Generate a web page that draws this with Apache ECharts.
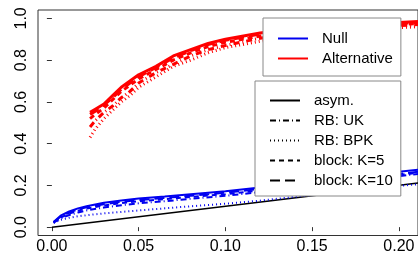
<!DOCTYPE html>
<html>
<head>
<meta charset="utf-8">
<script src="https://cdn.jsdelivr.net/npm/echarts@6/dist/echarts.min.js"></script>
<style>
	html,body{margin:0;padding:0;background:#fff;}
	#chart{width:418px;height:256px;}
</style>
</head>
<body>
<div id="chart"></div>
<script>
	// x grids (nominal size)
	var xNull = [0.001,0.005,0.01,0.015,0.02,0.03,0.04,0.05,0.065,0.08,0.1,0.12,0.14,0.16,0.18,0.2,0.211];
	var xAlt = [0.022,0.025,0.03,0.035,0.04,0.045,0.05,0.06,0.07,0.08,0.09,0.1,0.12,0.14,0.16,0.18,0.2,0.211];

	// rejection rates under the null
	var nullAsym = [0.025,0.055,0.075,0.09,0.10,0.117,0.128,0.137,0.147,0.158,0.172,0.19,0.208,0.226,0.245,0.265,0.275];
	var nullUK = [0.022,0.042,0.058,0.07,0.08,0.094,0.105,0.114,0.124,0.136,0.15,0.168,0.186,0.205,0.224,0.244,0.255];
	var nullBPK = [0.02,0.035,0.045,0.052,0.057,0.066,0.073,0.08,0.09,0.10,0.112,0.127,0.145,0.162,0.18,0.198,0.205];
	var nullK5 = [0.023,0.046,0.065,0.079,0.089,0.104,0.115,0.124,0.134,0.145,0.158,0.176,0.194,0.212,0.23,0.25,0.26];
	var nullK10 = [0.024,0.05,0.07,0.085,0.095,0.11,0.121,0.13,0.14,0.15,0.165,0.183,0.2,0.218,0.236,0.255,0.265];

	// rejection rates under the alternative
	var altAsym = [0.55,0.565,0.59,0.63,0.67,0.70,0.73,0.77,0.82,0.85,0.88,0.90,0.93,0.95,0.96,0.97,0.98,0.985];
	var altUK = [0.48,0.51,0.55,0.58,0.62,0.65,0.69,0.74,0.78,0.82,0.85,0.87,0.905,0.93,0.945,0.955,0.965,0.97];
	var altBPK = [0.43,0.47,0.52,0.56,0.60,0.63,0.67,0.72,0.77,0.80,0.835,0.86,0.89,0.915,0.93,0.945,0.955,0.96];
	var altK5 = [0.52,0.54,0.57,0.61,0.65,0.68,0.71,0.755,0.80,0.835,0.865,0.885,0.915,0.94,0.95,0.96,0.97,0.975];
	var altK10 = [0.54,0.555,0.585,0.62,0.66,0.69,0.72,0.765,0.81,0.845,0.875,0.895,0.925,0.945,0.955,0.965,0.975,0.98];

	// 45 degree line
	var diagX = [0, 0.211];
	var diagY = [0, 0.211];

	var xTicks = [0, 0.05, 0.1, 0.15, 0.2];
	var yTicks = [0, 0.2, 0.4, 0.6, 0.8, 1.0];

	var methodNames = ['asym.', 'RB: UK', 'RB: BPK', 'block: K=5', 'block: K=10'];
	var hypNames = ['Null', 'Alternative'];

	var FONT = 'Liberation Sans, Arial, sans-serif';

	// line type of each method
	var dashes = {
		'asym.': 'solid',
		'RB: UK': [6,3,1,3],
		'RB: BPK': [1,3],
		'block: K=5': [5,4],
		'block: K=10': [10,5]
	};

	function pairs(xs, ys){
		var d = [];
		for(var i=0;i<xs.length;i++){
			d.push([xs[i], ys[i]]);
		}
		return d;
	}

	function lineSeries(name, xs, ys, color, width, type){
		return {
			name: name,
			type: 'line',
			data: pairs(xs, ys),
			symbol: 'none',
			animation: false,
			silent: true,
			itemStyle: {color: color},
			lineStyle: {color: color, width: width, type: type}
		};
	}

	// legend only series, symbol hidden
	function keySeries(name, color, width, type){
		var s = lineSeries(name, [], [], color, width, type);
		s.symbol = 'circle';
		s.symbolSize = 0;
		s.itemStyle = {color: 'rgba(0,0,0,0)', borderColor: 'rgba(0,0,0,0)', opacity: 0};
		return s;
	}

	function initChart(){
		var series = [];
		var nullData = [nullAsym, nullUK, nullBPK, nullK5, nullK10];
		var altData = [altAsym, altUK, altBPK, altK5, altK10];

		series.push(lineSeries('diag', diagX, diagY, '#000', 1.5, 'solid'));
		for(var i=0;i<methodNames.length;i++){
			series.push(lineSeries('n'+i, xNull, nullData[i], '#0000f0', 2, dashes[methodNames[i]]));
		}
		for(var i=0;i<methodNames.length;i++){
			series.push(lineSeries('a'+i, xAlt, altData[i], '#ff0000', 3, dashes[methodNames[i]]));
		}

		series.push(keySeries('Null', '#0000f0', 1, 'solid'));
		series.push(keySeries('Alternative', '#ff0000', 3, 'solid'));
		for(var i=0;i<methodNames.length;i++){
			series.push(keySeries(methodNames[i], '#000', 1.2, dashes[methodNames[i]]));
		}

		var legendBase = {
			orient: 'vertical',
			itemWidth: 30,
			itemHeight: 14,
			backgroundColor: '#fff',
			borderColor: '#888',
			borderWidth: 1,
			selectedMode: false,
			z: 10,
			itemStyle: {opacity: 0},
			textStyle: {fontFamily: FONT, fontSize: 15, color: '#000', padding: [0,0,0,9]}
		};

		var option = {
			animation: false,
			grid: {left: 38, right: -3, top: 10, bottom: 20.5, show: true, borderColor: '#333', borderWidth: 1},
			xAxis: {
				type: 'value',
				min: -0.008,
				max: 0.211,
				splitLine: {show: false},
				axisLine: {show: false},
				axisTick: {show: true, length: 4, customValues: xTicks, lineStyle: {color: '#333'}},
				axisLabel: {customValues: xTicks, margin: 3, fontFamily: FONT, fontSize: 16, color: '#000',
					formatter: function(v){ return v.toFixed(2); }}
			},
			yAxis: {
				type: 'value',
				min: -0.04,
				max: 1.04,
				splitLine: {show: false},
				axisLine: {show: false},
				axisTick: {show: true, length: 5, customValues: yTicks, lineStyle: {color: '#333'}},
				axisLabel: {customValues: yTicks, rotate: 90, margin: 8, fontFamily: FONT, fontSize: 16, color: '#000',
					formatter: function(v){ return v.toFixed(1); }}
			},
			legend: [
				Object.assign({}, legendBase, {
					data: hypNames,
					left: 263, top: 18,
					padding: [13,8,10,14],
					itemGap: 5
				}),
				Object.assign({}, legendBase, {
					data: methodNames,
					left: 255, top: 81,
					padding: [12,8,8,14],
					itemGap: 5
				})
			],
			series: series
		};

		var chart = echarts.init(document.getElementById('chart'), null, {renderer: 'canvas'});
		chart.setOption(option);
	}

	initChart();
</script>
</body>
</html>
